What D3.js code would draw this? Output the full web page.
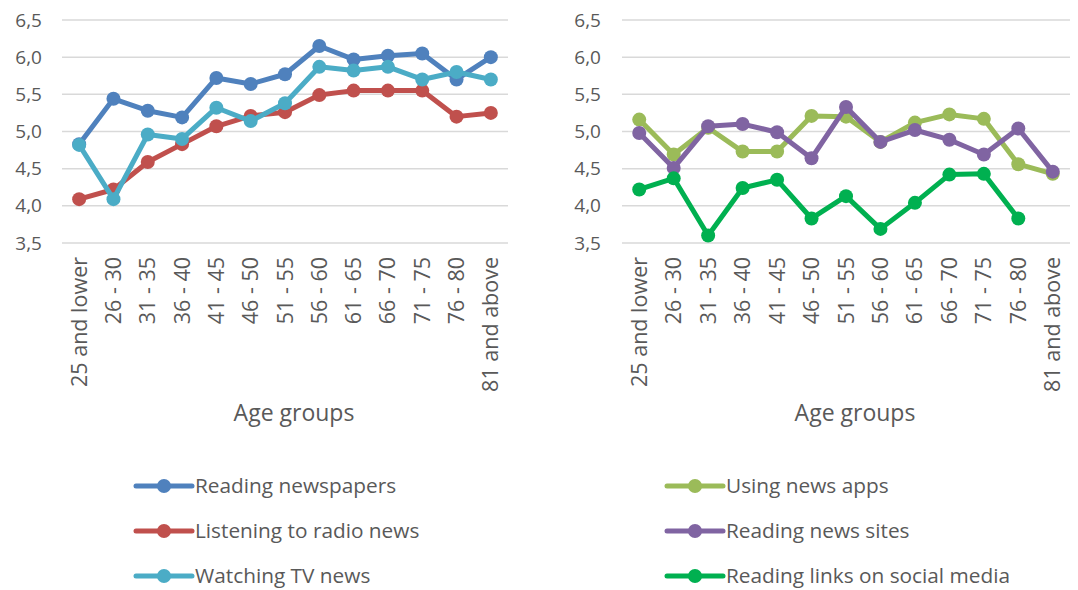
<!DOCTYPE html>
<html>
<head>
<meta charset="utf-8">
<script src="https://cdn.jsdelivr.net/npm/d3@7"></script>
<style>
  body { margin: 0; background: #fff; }
  svg text { font-family: "Open Sans", sans-serif; fill: #595959; }
</style>
</head>
<body>
<svg id="chart" width="1078" height="590"></svg>
<script>
// age groups on the x axis
const ageGroups = ['25 and lower', '26 - 30', '31 - 35', '36 - 40', '41 - 45', '46 - 50', '51 - 55',
  '56 - 60', '61 - 65', '66 - 70', '71 - 75', '76 - 80', '81 and above'];
const yTicks = [3.5, 4.0, 4.5, 5.0, 5.5, 6.0, 6.5];

// left panel
const newspapers = [4.83, 5.44, 5.28, 5.19, 5.72, 5.64, 5.77, 6.15, 5.97, 6.02, 6.05, 5.70, 6.00];
const radioNews  = [4.09, 4.22, 4.59, 4.83, 5.07, 5.21, 5.26, 5.49, 5.55, 5.55, 5.55, 5.20, 5.25];
const tvNews     = [4.82, 4.09, 4.96, 4.90, 5.32, 5.14, 5.38, 5.87, 5.82, 5.87, 5.70, 5.80, 5.70];

// right panel
const newsApps   = [5.16, 4.69, 5.05, 4.73, 4.73, 5.21, 5.20, 4.86, 5.12, 5.23, 5.17, 4.56, 4.43];
const newsSites  = [4.98, 4.51, 5.07, 5.10, 4.99, 4.64, 5.33, 4.86, 5.02, 4.89, 4.69, 5.04, 4.46];
const socialLinks = [4.22, 4.37, 3.60, 4.24, 4.35, 3.83, 4.13, 3.69, 4.04, 4.42, 4.43, 3.83, null];

const leftSeries = [
  {name: 'Reading newspapers', values: newspapers, color: '#4F81BD'},
  {name: 'Listening to radio news', values: radioNews, color: '#C0504D'},
  {name: 'Watching TV news', values: tvNews, color: '#4BACC6'}
];
const rightSeries = [
  {name: 'Using news apps', values: newsApps, color: '#9BBB59'},
  {name: 'Reading news sites', values: newsSites, color: '#8064A2'},
  {name: 'Reading links on social media', values: socialLinks, color: '#00B050'}
];

const svg = d3.select('#chart');

function drawPanel(series, left, right, labelRight, legendX) {
  const g = svg.append('g');
  const x = d3.scaleBand().domain(ageGroups).range([left, right]);
  const y = d3.scaleLinear().domain([3.5, 6.5]).range([243, 20]);

  // gridlines
  g.selectAll('.grid').data(yTicks).enter().append('line')
    .attr('x1', left).attr('x2', right)
    .attr('y1', d => y(d)).attr('y2', d => y(d))
    .attr('stroke', '#D9D9D9').attr('stroke-width', 1.5);

  // y tick labels
  g.selectAll('.ylab').data(yTicks).enter().append('text')
    .attr('x', labelRight).attr('y', d => y(d)).attr('dy', '0.35em')
    .attr('text-anchor', 'end').attr('font-size', 19)
    .text(d => d.toFixed(1).replace('.', ','));

  // x tick labels, rotated
  g.selectAll('.xlab').data(ageGroups).enter().append('text')
    .attr('transform', d => `translate(${x(d) + x.bandwidth() / 2},257) rotate(-90)`)
    .attr('text-anchor', 'end').attr('dy', '0.35em').attr('font-size', 21.5)
    .text(d => d);

  // axis title sits a bit right of the plot centre
  g.append('text')
    .attr('x', (left + right) / 2 + 9).attr('y', 421)
    .attr('text-anchor', 'middle').attr('font-size', 23)
    .text('Age groups');

  const line = d3.line()
    .defined(d => d != null)
    .x((d, i) => x(ageGroups[i]) + x.bandwidth() / 2)
    .y(d => y(d));

  series.forEach(s => {
    g.append('path').datum(s.values)
      .attr('d', line).attr('fill', 'none')
      .attr('stroke', s.color).attr('stroke-width', 5)
      .attr('stroke-linejoin', 'round');
    g.selectAll(null).data(s.values.map((v, i) => ({v, i})).filter(d => d.v != null))
      .enter().append('circle')
      .attr('cx', d => x(ageGroups[d.i]) + x.bandwidth() / 2)
      .attr('cy', d => y(d.v))
      .attr('r', 7)
      .attr('fill', s.color);
  });

  // legend
  const leg = g.selectAll('.leg').data(series).enter().append('g')
    .attr('transform', (d, i) => `translate(${legendX},${486 + i * 45})`);
  leg.append('line').attr('x1', 0).attr('x2', 56)
    .attr('stroke', d => d.color).attr('stroke-width', 5).attr('stroke-linecap', 'round');
  leg.append('circle').attr('cx', 28).attr('r', 7).attr('fill', d => d.color);
  leg.append('text').attr('x', 59).attr('dy', '0.35em').attr('font-size', 20.8)
    .text(d => d.name);
}

drawPanel(leftSeries, 62, 508, 42, 136);
drawPanel(rightSeries, 622, 1070, 601, 667);
</script>
</body>
</html>
